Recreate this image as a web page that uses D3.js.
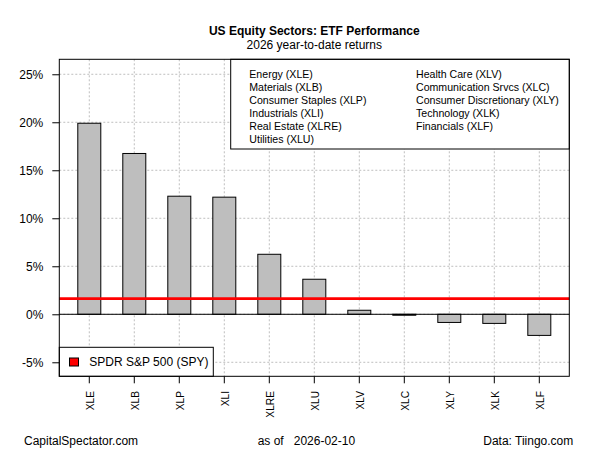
<!DOCTYPE html>
<html>
<head>
<meta charset="utf-8">
<script src="https://cdn.jsdelivr.net/npm/d3@7"></script>
<style>
  body { margin: 0; background: #fff; }
  svg { font-family: "Liberation Sans", Arial, sans-serif; }
</style>
</head>
<body>
<div id="chart"></div>
<script>
// data
const tickers = ['XLE', 'XLB', 'XLP', 'XLI', 'XLRE', 'XLU', 'XLV', 'XLC', 'XLY', 'XLK', 'XLF']
const returns = [19.9, 16.75, 12.3, 12.2, 6.25, 3.65, 0.42, -0.1, -0.85, -0.95, -2.2]
const spyReturn = 1.63
const yTicks = [-5, 0, 5, 10, 15, 20, 25]
const legendLeft = ['Energy (XLE)', 'Materials (XLB)', 'Consumer Staples (XLP)', 'Industrials (XLI)', 'Real Estate (XLRE)', 'Utilities (XLU)']
const legendRight = ['Health Care (XLV)', 'Communication Srvcs (XLC)', 'Consumer Discretionary (XLY)', 'Technology (XLK)', 'Financials (XLF)']

const width = 600, height = 450
const plot = {left: 59.3, right: 569.3, top: 59.3, bottom: 376.3}

const svg = d3.select('#chart').append('svg')
    .attr('width', width)
    .attr('height', height)

const x = d3.scaleBand()
    .domain(tickers)
    .range([plot.left, plot.right])
    .paddingInner(0.489)
    .paddingOuter(0.411)

const y = d3.scaleLinear()
    .domain([-6.46, 26.56])
    .range([plot.bottom, plot.top])

const gridColor = '#bebebe'

// grid
svg.append('g').selectAll('line.h')
    .data(yTicks)
    .join('line')
    .attr('x1', plot.left).attr('x2', plot.right)
    .attr('y1', d => y(d)).attr('y2', d => y(d))
    .attr('stroke', gridColor)
    .attr('stroke-dasharray', '2,2')
svg.append('g').selectAll('line.v')
    .data(tickers)
    .join('line')
    .attr('x1', d => x(d) + x.bandwidth()/2).attr('x2', d => x(d) + x.bandwidth()/2)
    .attr('y1', plot.top).attr('y2', plot.bottom)
    .attr('stroke', gridColor)
    .attr('stroke-dasharray', '2,2')

// bars
svg.append('g').selectAll('rect')
    .data(tickers)
    .join('rect')
    .attr('x', d => x(d))
    .attr('width', x.bandwidth())
    .attr('y', (d, i) => y(Math.max(0, returns[i])))
    .attr('height', (d, i) => Math.abs(y(returns[i]) - y(0)))
    .attr('fill', '#bebebe')
    .attr('stroke', '#000')
    .attr('stroke-width', 1)

// zero line
svg.append('line')
    .attr('x1', plot.left).attr('x2', plot.right)
    .attr('y1', y(0)).attr('y2', y(0))
    .attr('stroke', '#000')

// SPY line
svg.append('line')
    .attr('x1', plot.left).attr('x2', plot.right)
    .attr('y1', y(spyReturn)).attr('y2', y(spyReturn))
    .attr('stroke', '#ff0000')
    .attr('stroke-width', 2.6)

// top-right legend
const legendFont = 10.6
svg.append('rect')
    .attr('x', 230.7).attr('y', plot.top)
    .attr('width', plot.right - 230.7).attr('height', 149 - plot.top)
    .attr('fill', '#fff').attr('stroke', '#000')
const legG = svg.append('g').attr('font-size', legendFont + 'px')
legG.selectAll('text.l')
    .data(legendLeft)
    .join('text')
    .attr('x', 249.3)
    .attr('y', (d, i) => 73.7 + 13*i + 0.36*legendFont)
    .text(d => d)
legG.selectAll('text.r')
    .data(legendRight)
    .join('text')
    .attr('x', 416)
    .attr('y', (d, i) => 73.7 + 13*i + 0.36*legendFont)
    .text(d => d)

// bottom-left legend
svg.append('rect')
    .attr('x', plot.left).attr('y', 347.3)
    .attr('width', 213.3 - plot.left).attr('height', plot.bottom - 347.3)
    .attr('fill', '#fff').attr('stroke', '#000')
svg.append('rect')
    .attr('x', 69.5).attr('y', 358)
    .attr('width', 9).attr('height', 8)
    .attr('fill', '#ff0000').attr('stroke', '#000')
svg.append('text')
    .attr('x', 89.3).attr('y', 362 + 0.36*12)
    .attr('font-size', '12px')
    .text('SPDR S&P 500 (SPY)')

// frame
svg.append('rect')
    .attr('x', plot.left).attr('y', plot.top)
    .attr('width', plot.right - plot.left).attr('height', plot.bottom - plot.top)
    .attr('fill', 'none').attr('stroke', '#000')

// y axis
const yAxis = svg.append('g')
    .attr('transform', `translate(${plot.left},0)`)
    .call(d3.axisLeft(y).tickValues(yTicks).tickFormat(d => d + '%').tickSize(7).tickPadding(9))
yAxis.select('.domain').remove()
yAxis.selectAll('text').attr('font-size', '12px').attr('font-family', null).attr('fill', '#000')

// x axis
const xAxis = svg.append('g')
    .attr('transform', `translate(0,${plot.bottom})`)
    .call(d3.axisBottom(x).tickSize(7).tickFormat(''))
xAxis.select('.domain').remove()
svg.append('g').selectAll('text')
    .data(tickers)
    .join('text')
    .attr('transform', d => `translate(${x(d) + x.bandwidth()/2 + 1},391) rotate(-90)`)
    .attr('text-anchor', 'end')
    .attr('dy', '0.35em')
    .attr('font-size', '10.2px')
    .text(d => d)

// titles
svg.append('text')
    .attr('x', (plot.left + plot.right)/2).attr('y', 35.3)
    .attr('text-anchor', 'middle')
    .attr('font-size', '12px').attr('font-weight', 'bold')
    .text('US Equity Sectors: ETF Performance')
svg.append('text')
    .attr('x', (plot.left + plot.right)/2).attr('y', 48.6)
    .attr('text-anchor', 'middle')
    .attr('font-size', '12px')
    .text('2026 year-to-date returns')

// footer
const footer = svg.append('g').attr('font-size', '12px')
footer.append('text').attr('x', 24).attr('y', 445.3).text('CapitalSpectator.com')
footer.append('text').attr('x', 257.7).attr('y', 445.3)
    .style('white-space', 'pre')
    .text('as of   2026-02-10')
footer.append('text').attr('x', 573.3).attr('y', 445.3)
    .attr('text-anchor', 'end')
    .text('Data: Tiingo.com')
</script>
</body>
</html>
